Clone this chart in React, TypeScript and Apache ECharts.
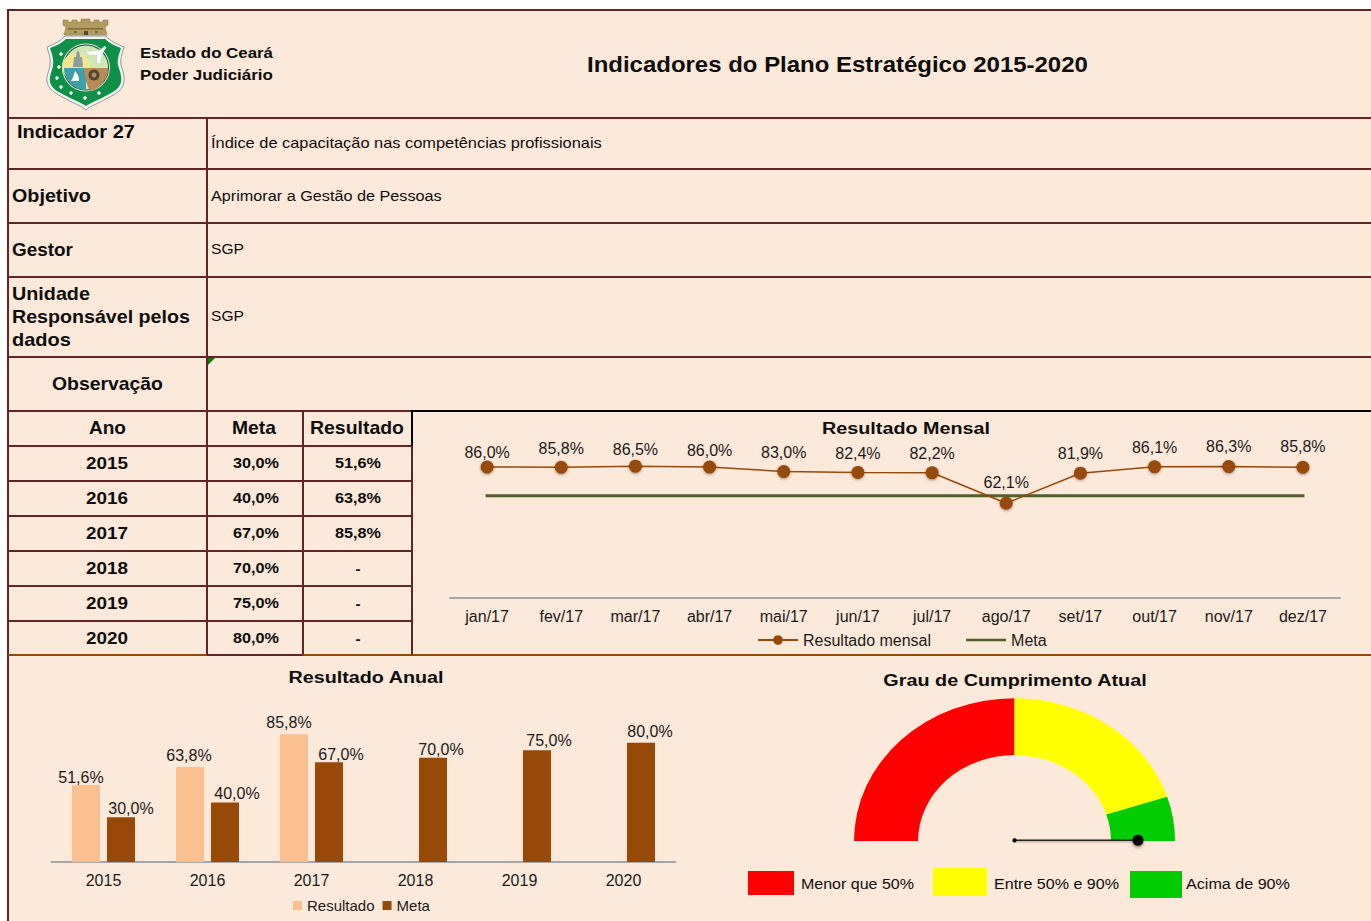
import React, { useEffect, useRef } from "react";
import * as echarts from "echarts";

const FONT = '"Liberation Sans", Arial, sans-serif';
const BG = "#FDE9D9";
const MAROON = "#632523";
const BROWN = "#984807";
const PEACH = "#FAC090";
const OLIVE = "#4F6228";

// ---- data
const months = ["jan/17", "fev/17", "mar/17", "abr/17", "mai/17", "jun/17", "jul/17", "ago/17", "set/17", "out/17", "nov/17", "dez/17"];
const monthlyResult = [86.0, 85.8, 86.5, 86.0, 83.0, 82.4, 82.2, 62.1, 81.9, 86.1, 86.3, 85.8];
const monthlyGoal = [67, 67, 67, 67, 67, 67, 67, 67, 67, 67, 67, 67];
const years = ["2015", "2016", "2017", "2018", "2019", "2020"];
const annualGoal = [30, 40, 67, 70, 75, 80];
const annualResult: (number | null)[] = [51.6, 63.8, 85.8, null, null, null];
const gaugeNames = ["Menor que 50%", "Entre 50% e 90%", "Acima de 90%"];
const gaugeShares = [50, 40, 10];
const gaugeColors = ["#FF0000", "#FFFF00", "#00CC00"];
const needlePosition = [100];

// ---- label nudges
const monthlyLabelDy = [5, 1, 3, 3, 0, 1, 0, -1, 0, 0, -1, -1];
const resultLabelShift = [[-5, 5], [-1, 2], [-5, 1]];
const goalLabelShift = [[10, 4], [12, 4], [12, 5], [8, 5], [12, 3], [9, 2]];

const pct = (v: number) => v.toFixed(1).replace(".", ",") + "%";

// ---- text helper: Arial-like glyphs stretched to the reference's run widths
const ctx = document.createElement("canvas").getContext("2d")!;
function T(text: string, x: number, y: number, size: number, bold: boolean, width?: number, align: "left" | "center" = "left"): any {
  const font = `${bold ? "bold " : ""}${size}px ${FONT}`;
  ctx.font = font;
  const scaleX = width ? width / ctx.measureText(text).width : 1;
  return {
    type: "text", x, y, scaleX, silent: true,
    style: { text, font, fill: "#0d0d0d", x: 0, y: 0, align, verticalAlign: "middle", textAlign: align, textVerticalAlign: "middle" },
  };
}
const R = (x: number, y: number, w: number, h: number, fill: string): any => ({ type: "rect", silent: true, shape: { x, y, width: w, height: h }, style: { fill } });
const H = (x1: number, x2: number, y: number, c = MAROON) => R(x1, y - 1, x2 - x1, 2, c);
const V = (x: number, y1: number, y2: number, c = MAROON) => R(x - 1, y1, 2, y2 - y1, c);

// ---- crest
const SHIELD = "M47 47C54 44 61 41 65 36L106 36C110 41 117 44 124 47C122 54 120 59 121 65C123 72 125 76 124 82C122 93 112 95 104 100C97 104 90 106 86 110C82 106 75 104 68 100C60 95 50 93 47 82C46 76 49 72 50 65C51 59 49 54 47 47Z";
const GREEN_SHIELD = "M50 48C56 46 62 43 66 39L105 39C109 43 115 46 121 48C119 55 117 59 118 65C120 72 122 76 121 82C119 91 110 93 102 98C96 101 90 103 86 106C82 103 76 101 70 98C62 93 52 91 50 82C49 76 52 72 53 65C54 59 52 55 50 48Z";
const CROWN = "M63 20L68 20L68 22L72 22L72 20L77 20L77 22L81 22L81 19L90 19L90 22L94 22L94 20L99 20L99 22L103 22L103 20L108 20L108 25L105 27L107 35L64 35L66 27L63 25Z";
const LOWER_LEFT = "M64 68L86 68L86 90C74 90 64 80 64 68Z";
const LOWER_RIGHT = "M84 68L108 68C108 80 98 90 90 91C87 86 85 78 84 68Z";
const SAIL = "M75 71C78 74 79 77 79 81L71 81C73 78 74 75 75 71Z";
const PLANE = "M85 52L100 50L105 46L106 48L103 52L100 64L97 63L97 55L90 55Z";
const TOWER = "M73 67L74 57L76 57L76.5 53L78 50L79.500 53L80 57L82 57L83 67Z";
echarts.graphic.registerShape("crestShield", echarts.graphic.extendPath(SHIELD, {}));
echarts.graphic.registerShape("crestGreen", echarts.graphic.extendPath(GREEN_SHIELD, {}));
echarts.graphic.registerShape("crestCrown", echarts.graphic.extendPath(CROWN, {}));
echarts.graphic.registerShape("crestLowerLeft", echarts.graphic.extendPath(LOWER_LEFT, {}));
echarts.graphic.registerShape("crestLowerRight", echarts.graphic.extendPath(LOWER_RIGHT, {}));
echarts.graphic.registerShape("crestSail", echarts.graphic.extendPath(SAIL, {}));
echarts.graphic.registerShape("crestPlane", echarts.graphic.extendPath(PLANE, {}));
echarts.graphic.registerShape("crestTower", echarts.graphic.extendPath(TOWER, {}));
const P = (type: string, fill: string, stroke?: string, lineWidth = 1): any => ({ type, x: 0, y: 0, silent: true, style: { fill, stroke, lineWidth } });
const C = (cx: number, cy: number, r: number, fill: string): any => ({ type: "circle", silent: true, shape: { cx, cy, r }, style: { fill } });
const starDots = [[61, 54], [59, 67], [57, 78], [61, 87], [71, 93], [85, 98], [99, 93]];
const crest = [
  P("crestCrown", "#B39A5E", "#8A7340", 0.5),
  R(68, 28, 35, 1.5, "#7F6A3A"),
  R(84, 31, 4, 4, "#5a4526"),
  R(74, 31, 3, 2, "#7F6A3A"),
  R(95, 31, 3, 2, "#7F6A3A"),
  P("crestShield", "#F4F4F4", "#8f9a94", 1),
  P("crestGreen", "#0E9146"),
  C(86, 67.5, 24, "#DDE6DC"),
  C(86, 67.5, 23, "#244F33"),
  C(86, 67.5, 22, "#CFE7B5"),
  C(76, 67, 14, "#F2E68E"),
  P("crestLowerLeft", "#3F9FA8"),
  P("crestLowerRight", "#B98A57"),
  P("crestTower", "#8E9AA0"),
  P("crestPlane", "#FFFFFF", "#c8d0c8", 0.5),
  P("crestSail", "#FFFFFF"),
  C(94, 75, 5.5, "#4f4633"),
  C(94, 75, 2.5, "#B98A57"),
  ...starDots.map(([x, y]) => C(x, y, 1.7, "#FFFFFF")),
];

// ---- table + frame
const rowLinesLower = [446, 481, 516, 551, 586, 621];
const tableRowY = [463, 498, 533, 568, 603, 638];
const frame = [
  R(8, 10, 1363, 911, BG),
  H(7, 1371, 10), V(8, 10, 921),
  H(8, 1371, 118), H(8, 1371, 169), H(8, 1371, 223), H(8, 1371, 277), H(8, 1371, 357),
  H(8, 1371, 411), V(207, 118, 655), V(303, 411, 655), V(412, 446, 655),
  ...rowLinesLower.map((y) => H(8, 412, y)),
  H(412, 1371, 411, "#000000"), V(412, 410, 446, "#000000"),
  H(8, 1371, 655, BROWN), H(207, 303, 655),
  { type: "polygon", silent: true, shape: { points: [[208, 358], [215, 358], [208, 365]] }, style: { fill: "#0a7a0a" } },
];
const texts = [
  T("Estado do Ceará", 140, 53, 14, true, 133),
  T("Poder Judiciário", 140, 75, 14, true, 133),
  T("Indicadores do Plano Estratégico 2015-2020", 587, 64.5, 22, true, 501),
  T("Indicador 27", 17, 132, 18, true, 118),
  T("Índice de capacitação nas competências profissionais", 211, 143, 15, false, 391),
  T("Objetivo", 12, 196, 18, true, 79),
  T("Aprimorar a Gestão de Pessoas", 211, 196, 15, false, 231),
  T("Gestor", 12, 250, 18, true, 61),
  T("SGP", 211, 249, 15, false, 33),
  T("Unidade", 12, 294, 18, true, 78),
  T("Responsável pelos", 12, 317, 18, true, 178),
  T("dados", 12, 340, 18, true, 59),
  T("SGP", 211, 316, 15, false, 33),
  T("Observação", 52, 384, 18, true, 111),
  T("Ano", 107.5, 428, 18, true, 37, "center"),
  T("Meta", 254, 428, 18, true, 44, "center"),
  T("Resultado", 357, 428, 18, true, 94, "center"),
  ...years.map((y, i) => T(y, 107, tableRowY[i], 17, true, 42, "center")),
  ...annualGoal.map((v, i) => T(pct(v), 256, tableRowY[i], 15, true, 46, "center")),
  ...annualResult.map((v, i) => T(v === null ? "-" : pct(v), 358, tableRowY[i], 15, true, v === null ? undefined : 46, "center")),
  T("Resultado Mensal", 906, 428, 17, true, 168, "center"),
  T("Resultado Anual", 366, 677, 17, true, 156, "center"),
  T("Grau de Cumprimento Atual", 1015, 680, 17, true, 264, "center"),
];
const gaugeKey = [
  R(748, 871, 46, 24, gaugeColors[0]), R(933, 868, 54, 28, gaugeColors[1]), R(1130, 871, 52, 27, gaugeColors[2]),
  T(gaugeNames[0], 801, 884, 15, false, 113), T(gaugeNames[1], 994, 884, 15, false, 125), T(gaugeNames[2], 1186, 884, 15, false, 104),
];

// ---- gauge geometry
const GX = 1014.5, GY = 841, GR = 160.5, GR0 = 96.5, GSQ = 0.89;
const angleOf = (share: number) => Math.PI + (Math.PI * share) / 100;
// a bar across the middle of the legend icon; the two specks keep its box 40x12
const GOAL_ICON = "path://M0 0L0.01 0L0.01 0.01ZM0 4.8H40V7.2H0ZM40 12L40.01 12L40.01 12.01Z";

export default function App() {
  const ref = useRef<HTMLDivElement>(null);
  useEffect(() => {
    const chart = echarts.init(ref.current!, undefined, { renderer: "svg" });
    const axisLabel = { color: "#1a1a1a", fontSize: 16, fontFamily: FONT, margin: 11 };
    const axisLine = { show: true, lineStyle: { color: "#A6A6A6", width: 2 } };
    const val = { type: "value", min: 0, max: 100, show: false };
    const dataLabel = { show: true, position: "top", color: "#1a1a1a", fontSize: 16, fontFamily: FONT, formatter: (p: any) => pct(p.value) };
    chart.setOption({
      animation: false,
      backgroundColor: "#ffffff",
      grid: [
        { left: 450, width: 890, top: 445.8, height: 151.5 },
        { left: 51.5, width: 624, top: 713, height: 149 },
      ],
      xAxis: [
        { type: "category", gridIndex: 0, data: months, axisLine, axisTick: { show: false }, axisLabel },
        { type: "category", gridIndex: 1, data: years, axisLine, axisTick: { show: false }, axisLabel: { ...axisLabel, margin: 10 } },
      ],
      yAxis: [{ ...val, gridIndex: 0 }, { ...val, gridIndex: 1 }],
      legend: [
        {
          data: [{ name: "Resultado mensal" }, { name: "Meta mensal", icon: GOAL_ICON }], left: 752, top: 627, itemWidth: 40, itemHeight: 12, itemGap: 35,
          formatter: (n: string) => (n === "Meta mensal" ? "Meta" : n), selectedMode: false,
          textStyle: { fontSize: 16, fontFamily: FONT, color: "#1a1a1a" },
        },
        {
          data: ["Resultado", "Meta"], left: 288, top: 893, itemWidth: 9, itemHeight: 9, itemGap: 8, selectedMode: false, icon: "rect",
          textStyle: { fontSize: 15, fontFamily: FONT, color: "#1a1a1a" },
        },
      ],
      series: [
        {
          name: "Meta mensal", type: "line", xAxisIndex: 0, yAxisIndex: 0, data: monthlyGoal, symbol: "none",
          lineStyle: { color: OLIVE, width: 3, cap: "square" }, itemStyle: { color: OLIVE }, z: 2,
        },
        {
          name: "Resultado mensal", type: "line", xAxisIndex: 0, yAxisIndex: 0, symbol: "circle", symbolSize: 13,
          data: monthlyResult.map((value, i) => ({ value, label: { offset: [0, monthlyLabelDy[i]] } })),
          lineStyle: { color: BROWN, width: 1.5 },
          itemStyle: { color: BROWN, shadowBlur: 3, shadowColor: "rgba(0,0,0,0.35)", shadowOffsetY: 1 },
          label: dataLabel, z: 3,
        },
        {
          name: "Resultado", type: "bar", xAxisIndex: 1, yAxisIndex: 1, barWidth: 28, barGap: "25%",
          data: annualResult.map((value, i) => ({ value, label: { offset: resultLabelShift[i] ?? [0, 0] } })),
          itemStyle: { color: PEACH }, label: dataLabel,
        },
        {
          name: "Meta", type: "bar", xAxisIndex: 1, yAxisIndex: 1, barWidth: 28,
          data: annualGoal.map((value, i) => ({ value, label: { offset: goalLabelShift[i] } })),
          itemStyle: { color: BROWN }, label: dataLabel,
        },
        {
          type: "custom", coordinateSystem: "none", silent: true, data: gaugeShares.map((v) => [v]),
          renderItem: (p: any, api: any) => {
            const before = gaugeShares.slice(0, p.dataIndex).reduce((a, b) => a + b, 0);
            return {
              type: "sector", x: GX, y: GY, scaleY: GSQ,
              shape: { cx: 0, cy: 0, r: GR, r0: GR0, startAngle: angleOf(before), endAngle: angleOf(before + api.value(0)), clockwise: true },
              style: { fill: gaugeColors[p.dataIndex] },
            };
          },
        },
        {
          type: "custom", coordinateSystem: "none", silent: true, data: needlePosition.map((v) => [v]), z: 5,
          renderItem: (_: any, api: any) => {
            const a = angleOf(api.value(0));
            const sy = GY - 0.7;
            const ex = GX + 123.5 * Math.cos(a);
            const ey = sy + 123.5 * Math.sin(a) * GSQ;
            const nx = -Math.sin(a) * 0.8;
            const ny = Math.cos(a) * 0.8;
            const shadow = { shadowBlur: 3, shadowColor: "rgba(0,0,0,0.4)", shadowOffsetY: 2 };
            return {
              type: "group",
              children: [
                {
                  type: "polygon",
                  shape: { points: [[GX + nx, sy + ny], [ex + nx, ey + ny], [ex - nx, ey - ny], [GX - nx, sy - ny]] },
                  style: { fill: "#222", ...shadow },
                },
                { type: "circle", shape: { cx: GX, cy: sy, r: 2.2 }, style: { fill: "#000" } },
                { type: "circle", shape: { cx: ex, cy: ey, r: 5.5 }, style: { fill: "#000", ...shadow } },
              ],
            };
          },
        },
      ],
      graphic: { elements: [...frame, ...crest, ...texts, ...gaugeKey] },
    });
    return () => chart.dispose();
  }, []);
  return <div ref={ref} style={{ position: "fixed", left: 0, top: 0, width: 1371, height: 921 }} />;
}
